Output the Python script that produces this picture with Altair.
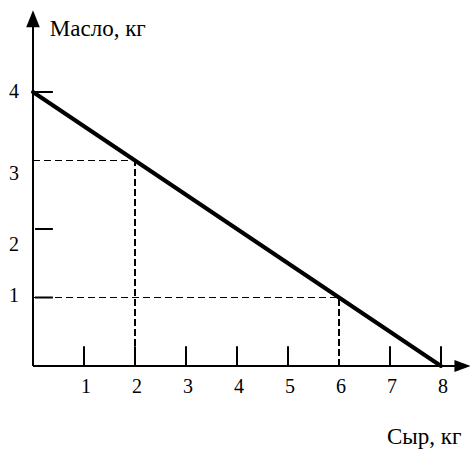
import altair as alt
import pandas as pd

# Production possibilities: cheese (x) vs butter (y)
line_x = [0, 8]
line_y = [4, 0]

# Points on the frontier marked with dashed guides
guide_x = [2, 6]
guide_y = [3, 1]

x_tick_labels = [1, 2, 3, 4, 5, 6, 7, 8]
x_tick_marks = [1, 2, 3, 4, 5, 7, 8]
y_tick_labels = [1, 2, 3, 4]
y_tick_marks = [1, 2, 4]

x_title = "Сыр, кг"
y_title = "Масло, кг"

FONT = "Liberation Serif"
xs = alt.Scale(domain=[0, 8], nice=False, zero=False)
ys = alt.Scale(domain=[0, 4], nice=False, zero=False)


def X(f):
    return alt.X(f, type="quantitative", scale=xs, axis=None)


def Y(f):
    return alt.Y(f, type="quantitative", scale=ys, axis=None)


def X2(f):
    return alt.X2(f)


def Y2(f):
    return alt.Y2(f)


frontier = pd.DataFrame({"x": line_x, "y": line_y})
guides = pd.DataFrame({"x": guide_x, "y": guide_y, "zero": 0.0})
xt = pd.DataFrame({"v": x_tick_marks, "lo": 0.0, "hi": 0.29})
yt = pd.DataFrame({"v": y_tick_marks, "lo": 0.04, "hi": 0.39})
xl = pd.DataFrame({"v": x_tick_labels, "zero": 0.0, "t": [str(v) for v in x_tick_labels]})

# axes: (x, y, x2, y2)
axes = pd.DataFrame({"x": [0.0, 0.0], "y": [0.0, 0.0], "x2": [8.45, 0.0], "y2": [0.0, 5.1]})
axis_lines = alt.Chart(axes).mark_rule(color="black", strokeWidth=2).encode(
    x=X("x"), y=Y("y"), x2=X2("x2"), y2=Y2("y2")
)

x_head = alt.Chart(pd.DataFrame({"x": [8.42], "y": [0.0]})).mark_point(
    shape="M-1,-0.75L1,0L-1,0.75Z", size=256, filled=True, color="black", opacity=1
).encode(x=X("x"), y=Y("y"))
y_head = alt.Chart(pd.DataFrame({"x": [0.0], "y": [5.07]})).mark_point(
    shape="M-0.8,1L0,-1L0.8,1Z", size=289, filled=True, color="black", opacity=1
).encode(x=X("x"), y=Y("y"))

# tick marks
x_ticks = alt.Chart(xt).mark_rule(color="black", strokeWidth=2).encode(
    x=X("v"), y=Y("lo"), y2=Y2("hi")
)
y_ticks = alt.Chart(yt).mark_rule(color="black", strokeWidth=2).encode(
    y=Y("v"), x=X("lo"), x2=X2("hi")
)

# tick labels
x_labels = alt.Chart(xl).mark_text(
    font=FONT, fontSize=20, dy=21, dx=2, baseline="middle"
).encode(x=X("v"), y=Y("zero"), text="t:N")

y_offsets = {1: -2, 2: 16, 3: 13, 4: 0}
y_label_layers = [
    alt.Chart(pd.DataFrame({"v": [v], "zero": [0.0], "t": [str(v)]})).mark_text(
        font=FONT, fontSize=20, dx=-19, dy=y_offsets[v], baseline="middle"
    ).encode(x=X("zero"), y=Y("v"), text="t:N")
    for v in y_tick_labels
]

# dashed guides
h_guides = alt.Chart(guides).mark_rule(color="black", strokeWidth=1.2, strokeDash=[7, 4]).encode(
    x=X("zero"), x2=X2("x"), y=Y("y")
)
v_guides = alt.Chart(guides).mark_rule(color="black", strokeWidth=2, strokeDash=[7, 3]).encode(
    x=X("x"), y=Y("zero"), y2=Y2("y")
)

# frontier line
frontier_line = alt.Chart(frontier).mark_line(color="black", strokeWidth=4, strokeCap="round").encode(
    x=X("x"), y=Y("y")
)

# axis titles
titles = pd.DataFrame({"x": [0.33], "y": [4.92], "t": [y_title]})
y_lab = alt.Chart(titles).mark_text(font=FONT, fontSize=23, align="left", baseline="middle").encode(
    x=X("x"), y=Y("y"), text="t:N"
)
titles2 = pd.DataFrame({"x": [8.4], "y": [-1.03], "t": [x_title]})
x_lab = alt.Chart(titles2).mark_text(font=FONT, fontSize=23, align="right", baseline="middle").encode(
    x=X("x"), y=Y("y"), text="t:N"
)

chart = alt.layer(
    h_guides, v_guides, axis_lines, x_head, y_head, x_ticks, y_ticks,
    frontier_line, x_labels, *y_label_layers, y_lab, x_lab,
).properties(
    width=408, height=274,
    padding={"left": 33, "top": 92, "right": 29, "bottom": 83},
    autosize=alt.AutoSizeParams(type="none"),
    background="white",
).configure_view(stroke=None)

chart.save("out.html", embed_options={"renderer": "svg", "actions": False})
